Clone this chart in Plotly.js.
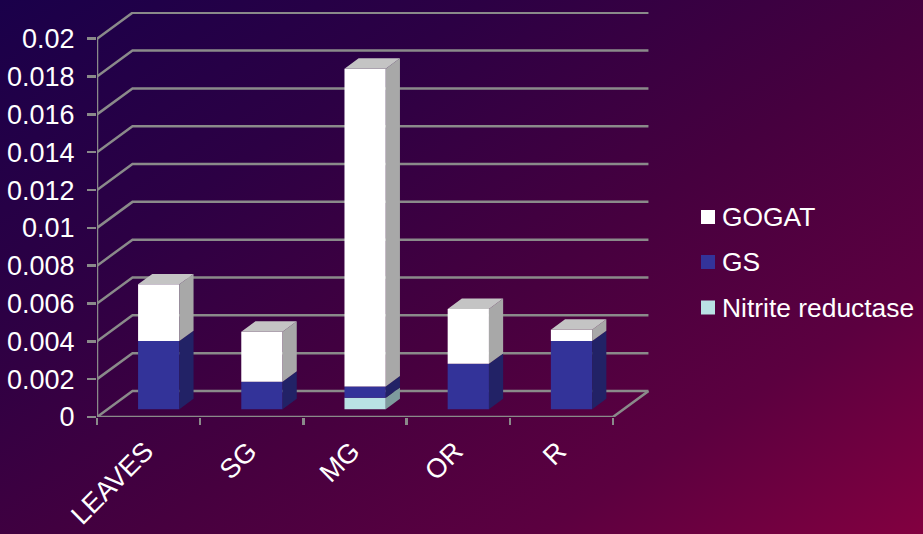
<!DOCTYPE html>
<html>
<head>
<meta charset="utf-8">
<script src="https://cdn.plot.ly/plotly-3.0.1.min.js"></script>
<style>
  html, body { margin: 0; padding: 0; width: 923px; height: 534px; overflow: hidden; }
  body { background: linear-gradient(147deg, #1a004a 0%, #2c0044 28%, #46003f 55%, #5c0040 78%, #820040 100%); }
</style>
</head>
<body>
<div id="chart" style="width:923px;height:534px"></div>
<script>
// Enzyme activity per plant tissue, stacked bottom to top.
const categories = ['LEAVES', 'SG', 'MG', 'OR', 'R'];
const nitriteReductase = [0, 0, 0.0006, 0, 0];
const gs = [0.0036, 0.00145, 0.0006, 0.0024, 0.0036];
const gogat = [0.003, 0.00265, 0.0168, 0.0029, 0.0006];
const yTickValues = [0, 0.002, 0.004, 0.006, 0.008, 0.01, 0.012, 0.014, 0.016, 0.018, 0.02];
const yTickLabels = ['0', '0.002', '0.004', '0.006', '0.008', '0.01', '0.012', '0.014', '0.016', '0.018', '0.02'];

// Oblique projection: how far one full unit of depth shifts a point, in axis units.
const depthX = 0.3437;
const depthY = 0.001375;
const barWidth = 0.4;
const frontDepth = 0.3;
const backDepth = 0.7;

const series = [
  { name: 'Nitrite reductase', values: nitriteReductase, front: '#b9e2e4', side: '#7e9b9d' },
  { name: 'GS', values: gs, front: '#333399', side: '#222266' },
  { name: 'GOGAT', values: gogat, front: '#ffffff', side: '#a8a8a8' }
];

const n = categories.length;
const frontX = i => i + 0.495 + frontDepth * depthX;
const traces = [];
const sideTraces = [];
const topX = [], topY = [];
const running = new Array(n).fill(0);

series.forEach(s => {
  const bases = running.slice();
  // Front faces are ordinary bars lifted to the depth of the bar block.
  traces.push({
    type: 'bar', name: s.name, showlegend: false, hoverinfo: 'skip',
    x: categories.map((c, i) => frontX(i)),
    y: s.values,
    base: bases.map(b => b + frontDepth * depthY),
    width: barWidth,
    marker: { color: s.front, line: { width: 0 } }
  });
  // Side faces of this series.
  const sx = [], sy = [];
  s.values.forEach((v, i) => {
    if (v <= 0) return;
    const right = frontX(i) + barWidth / 2;
    const shift = (backDepth - frontDepth) * depthX;
    const lo = bases[i], hi = bases[i] + v;
    sx.push(right, right, right + shift, right + shift, right, null);
    sy.push(lo + frontDepth * depthY, hi + frontDepth * depthY, hi + backDepth * depthY, lo + backDepth * depthY, lo + frontDepth * depthY, null);
    running[i] = hi;
  });
  sideTraces.push({
    type: 'scatter', mode: 'lines', x: sx, y: sy, fill: 'toself', fillcolor: s.side,
    line: { width: 0, color: s.side }, showlegend: false, hoverinfo: 'skip'
  });
});

// Top cap of every column.
running.forEach((h, i) => {
  const left = frontX(i) - barWidth / 2, right = left + barWidth;
  const shift = (backDepth - frontDepth) * depthX;
  topX.push(left, right, right + shift, left + shift, left, null);
  topY.push(h + frontDepth * depthY, h + frontDepth * depthY, h + backDepth * depthY, h + backDepth * depthY, h + frontDepth * depthY, null);
});
const capTrace = {
  type: 'scatter', mode: 'lines', x: topX, y: topY, fill: 'toself', fillcolor: '#c4c4c4',
  line: { width: 0, color: '#c4c4c4' }, showlegend: false, hoverinfo: 'skip'
};

// Wall grid, floor outline and the value axis line sit under the bars.
const gridColor = '#8a8a8a';
const gridWidth = 2.5;
const shapes = [];
yTickValues.forEach(v => {
  shapes.push({
    type: 'path', layer: 'below', xref: 'x', yref: 'y',
    path: `M 0 ${v} L ${depthX} ${v + depthY} L ${n + depthX} ${v + depthY}`,
    line: { color: gridColor, width: gridWidth }
  });
});
shapes.push({
  type: 'path', layer: 'below', xref: 'x', yref: 'y',
  path: `M 0 0 L ${n} 0 L ${n + depthX} ${depthY}`,
  line: { color: gridColor, width: gridWidth }
});
shapes.push({
  type: 'line', layer: 'below', xref: 'x', yref: 'y', x0: 0, x1: 0, y0: 0, y1: 0.02,
  line: { color: gridColor, width: gridWidth }
});

// Key on the right, listed top layer first.
const keyRows = [
  { row: series[2], py: 217 },
  { row: series[1], py: 262 },
  { row: series[0], py: 307.5 }
];
const W = 923, H = 534;
const annotations = [];
keyRows.forEach(k => {
  shapes.push({
    type: 'rect', xref: 'paper', yref: 'paper', layer: 'above',
    x0: (701 - 97) / (W - 97 - 274), x1: (715 - 97) / (W - 97 - 274),
    y0: (417 - k.py - 7) / 405, y1: (417 - k.py + 7) / 405,
    fillcolor: k.row.front, line: { width: 0 }
  });
  annotations.push({
    xref: 'paper', yref: 'paper', xanchor: 'left', yanchor: 'middle', showarrow: false,
    x: (721 - 97) / (W - 97 - 274), y: (417 - k.py) / 405,
    text: k.row.name, font: { color: '#ffffff', size: 26.4 }, borderpad: 0
  });
});

Plotly.newPlot('chart', traces.concat(sideTraces, [capTrace]), {
  width: W, height: H,
  paper_bgcolor: 'rgba(0,0,0,0)', plot_bgcolor: 'rgba(0,0,0,0)',
  margin: { l: 97, r: 274, t: 12, b: 117 },
  showlegend: false,
  barmode: 'overlay',
  font: { family: '"Liberation Sans", Arial, sans-serif', color: '#ffffff', size: 26 },
  xaxis: {
    range: [0, 5.349], showgrid: false, zeroline: false, showline: false,
    tickmode: 'array', tickvals: categories.map((c, i) => i + 0.47), ticktext: categories,
    tickangle: -45, ticks: '', ticklabelstandoff: 12,
    tickfont: { size: 27, color: '#ffffff' },
    minor: { tickmode: 'array', tickvals: [0, 1, 2, 3, 4, 5], ticks: 'outside', ticklen: 7, tickwidth: 2.5, tickcolor: gridColor, showgrid: false }
  },
  yaxis: {
    range: [0, 0.021414], showgrid: false, zeroline: false, showline: false,
    tickmode: 'array', tickvals: yTickValues, ticktext: yTickLabels,
    ticks: 'outside', ticklen: 9, tickwidth: 2.5, tickcolor: gridColor, ticklabelstandoff: 7,
    tickfont: { size: 27, color: '#ffffff' }
  },
  shapes: shapes,
  annotations: annotations
}, { displayModeBar: false, staticPlot: true });
</script>
</body>
</html>
